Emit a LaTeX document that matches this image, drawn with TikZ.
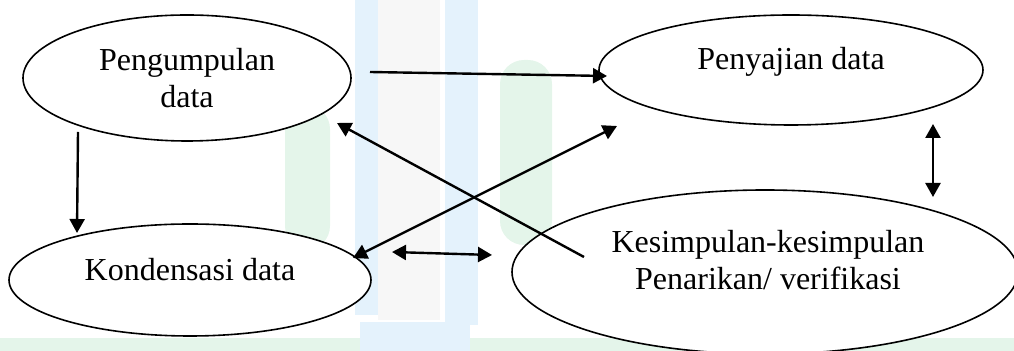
\documentclass[tikz,border=0pt]{standalone}
\usepackage{fontspec}
\setmainfont{Liberation Serif}
\usetikzlibrary{shapes.geometric,arrows.meta}
\definecolor{wmblue}{HTML}{E4F2FC}
\definecolor{wmgreen}{HTML}{E4F5EA}
\definecolor{wmgray}{HTML}{F7F7F7}
\tikzset{
  ell/.style={draw, ellipse, line width=0.8pt, inner sep=0pt, fill=white},
  lbl/.style={align=center, font=\fontsize{16}{18.5}\selectfont, inner sep=0pt},
  tip/.tip={Triangle[length=7pt,width=7.5pt]},
  conn/.style={line width=1.2pt, -tip},
  dconn/.style={line width=1.2pt, tip-tip}
}
\begin{document}
\begin{tikzpicture}[x=0.5pt,y=-0.5pt]
\useasboundingbox (0,0) rectangle (1014,351);
\begin{scope}
\clip (0,0) rectangle (1014,351);
% faint watermark
\fill[wmgreen, rounded corners=12pt] (285,105) rectangle (330,250);
\fill[wmgreen, rounded corners=12pt] (500,60) rectangle (552,245);
\fill[wmgray] (378,0) rectangle (440,320);
\fill[wmblue] (355,0) rectangle (378,315);
\fill[wmblue] (445,0) rectangle (478,325);
\fill[wmgreen] (0,338) rectangle (1014,351);
\fill[wmblue] (360,322) rectangle (470,351);

\node[ell, minimum width=164pt, minimum height=63pt] (pd) at (187,78) {};
\node[ell, minimum width=181pt, minimum height=56pt] (kd) at (190,280) {};
\node[ell, minimum width=192pt, minimum height=55pt] (sd) at (791,70) {};
\node[ell, minimum width=253pt, minimum height=82pt] (kv) at (765,272) {};
\end{scope}

\node[lbl] (pdt) at (187,78) {Pengumpulan\\data};
\node[lbl] (kdt) at (190,270) {Kondensasi data};
\node[lbl] (sdt) at (791,62) {Penyajian data};
\node[lbl] (kvt) at (768,260) {Kesimpulan-kesimpulan\\Penarikan/ verifikasi};

\coordinate (a1s) at (370,72);
\coordinate (a1e) at (607,76);
\coordinate (a2s) at (78,132);
\coordinate (a2e) at (77,233);
\coordinate (a3s) at (584,257);
\coordinate (a3e) at (337,123);
\coordinate (a4s) at (353,258);
\coordinate (a4e) at (617,126);
\coordinate (a5s) at (392,252);
\coordinate (a5e) at (492,255);
\coordinate (a6s) at (933,124);
\coordinate (a6e) at (933,197);

\draw[conn] (a1s) -- (a1e);
\draw[conn] (a2s) -- (a2e);
\draw[conn] (a3s) -- (a3e);
\draw[dconn] (a4s) -- (a4e);
\draw[dconn] (a5s) -- (a5e);
\draw[dconn] (a6s) -- (a6e);
\end{tikzpicture}
\end{document}
